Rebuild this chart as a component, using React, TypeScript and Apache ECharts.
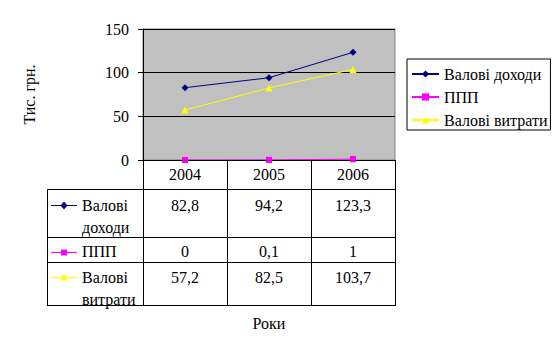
import React, { useEffect, useRef } from "react";
import * as echarts from "echarts";

const years = ["2004", "2005", "2006"];
const seriesNames = ["Валові доходи", "ППП", "Валові витрати"];
const rowLabels = ["Валові\nдоходи", "ППП", "Валові\nвитрати"];
const grossIncome = [82.8, 94.2, 123.3];
const ppp = [0, 0.1, 1];
const grossCosts = [57.2, 82.5, 103.7];
const yAxisTitle = "Тис. грн.";
const xAxisTitle = "Роки";

const colors = ["#000080", "#FF00FF", "#FFFF00"];
const symbols = ["diamond", "rect", "triangle"];
const symbolSizes = [7, 6, 7];
const FONT = "Liberation Serif";
const FS = 16;

export default function App() {
  const ref = useRef<HTMLDivElement>(null);
  useEffect(() => {
    if (!ref.current) return;
    const chart = echarts.init(ref.current, undefined, { renderer: "svg" });
    const GL = 143, GT = 29, GW = 252, GH = 131;
    const GB = GT + GH; // 160
    const catW = GW / years.length;
    const tableLeft = 47;
    const rowBottoms = [189, 237, 262, 305];
    const rowTextY = [205, 251.5, 277];
    const allData = [grossIncome, ppp, grossCosts];
    const fmt = (v: number) => String(v).replace(".", ",");
    const h = (v: number) => Math.round(v) + 0.5;

    const graphics: any[] = [];
    rowBottoms.forEach((y) => {
      graphics.push({
        type: "line",
        shape: { x1: tableLeft, y1: h(y), x2: GL + GW + 1, y2: h(y) },
        style: { stroke: "#000", lineWidth: 1 },
        silent: true,
      });
    });
    graphics.push({
      type: "line",
      shape: { x1: h(tableLeft), y1: rowBottoms[0], x2: h(tableLeft), y2: rowBottoms[3] + 1 },
      style: { stroke: "#000", lineWidth: 1 },
    });
    for (let i = 0; i <= years.length; i++) {
      const x = h(GL + i * catW);
      graphics.push({
        type: "line",
        shape: { x1: x, y1: GB, x2: x, y2: rowBottoms[3] + 1 },
        style: { stroke: "#000", lineWidth: 1 },
      });
    }
    allData.forEach((data, r) => {
      const y = rowTextY[r];
      graphics.push({
        type: "line",
        shape: { x1: 51, y1: h(y), x2: 77, y2: h(y) },
        style: { stroke: colors[r], lineWidth: 1 },
      });
      const cx = 64, cy = h(y);
      if (symbols[r] === "diamond") {
        graphics.push({
          type: "polygon",
          shape: { points: [[cx, cy - 4], [cx + 3.5, cy], [cx, cy + 4], [cx - 3.5, cy]] },
          style: { fill: colors[r] },
        });
      } else if (symbols[r] === "rect") {
        graphics.push({
          type: "rect",
          shape: { x: cx - 3, y: cy - 3, width: 6, height: 6 },
          style: { fill: colors[r] },
        });
      } else {
        graphics.push({
          type: "polygon",
          shape: { points: [[cx, cy - 4], [cx + 4, cy + 3], [cx - 4, cy + 3]] },
          style: { fill: colors[r] },
        });
      }
      graphics.push({
        type: "text",
        x: 82,
        y: y - 11,
        style: {
          text: rowLabels[r],
          fontFamily: FONT,
          fontSize: FS,
          fill: "#000",
          lineHeight: 22,
          verticalAlign: "top",
          align: "left",
        },
      });
      data.forEach((v, c) => {
        graphics.push({
          type: "text",
          x: GL + catW * (c + 0.5),
          y: y,
          style: {
            text: fmt(v),
            fontFamily: FONT,
            fontSize: FS,
            fill: "#000",
            align: "center",
            verticalAlign: "middle",
          },
        });
      });
    });

    const lineSeries = allData.map((d, i) => ({
      name: seriesNames[i],
      type: "line",
      data: d,
      symbol: symbols[i],
      symbolSize: symbolSizes[i],
      itemStyle: { color: colors[i] },
      lineStyle: { color: colors[i], width: 1 },
      z: 2,
    }));
    // markers of ППП drawn above the category axis line (its line stays under it)
    const pppMarkers = {
      name: seriesNames[1],
      type: "scatter",
      data: ppp,
      symbol: symbols[1],
      symbolSize: symbolSizes[1],
      itemStyle: { color: colors[1] },
      z: 5,
    };

    chart.setOption({
      animation: false,
      backgroundColor: "#fff",
      textStyle: { fontFamily: FONT, fontSize: FS },
      grid: {
        left: GL,
        top: GT,
        width: GW,
        height: GH,
        show: true,
        backgroundColor: "#C0C0C0",
        borderColor: "#808080",
        borderWidth: 1,
      },
      legend: {
        orient: "vertical",
        left: 407,
        top: 59,
        borderColor: "#000",
        borderWidth: 1,
        padding: [7, 3, 2, 4],
        itemGap: 7,
        itemWidth: 27,
        itemHeight: 9,
        textStyle: { color: "#000", fontFamily: FONT, fontSize: FS },
        data: seriesNames,
      },
      xAxis: {
        type: "category",
        data: years,
        boundaryGap: true,
        z: 3,
        name: xAxisTitle,
        nameLocation: "middle",
        nameGap: 155,
        nameTextStyle: { color: "#000", fontFamily: FONT, fontSize: FS },
        axisLine: { show: true, lineStyle: { color: "#000", width: 1 } },
        axisTick: { show: false },
        axisLabel: { color: "#000", fontFamily: FONT, fontSize: FS, margin: 6 },
        splitLine: { show: false },
      },
      yAxis: {
        type: "value",
        min: 0,
        max: 150,
        interval: 50,
        name: yAxisTitle,
        nameLocation: "middle",
        nameGap: 106,
        nameRotate: 90,
        nameTextStyle: { color: "#000", fontFamily: FONT, fontSize: FS },
        axisLine: { show: true, lineStyle: { color: "#000", width: 1 } },
        axisTick: { show: true, length: 5, lineStyle: { color: "#000" } },
        axisLabel: { color: "#000", fontFamily: FONT, fontSize: FS, margin: 14 },
        splitLine: { show: true, lineStyle: { color: "#000", width: 1 } },
      },
      series: [...lineSeries, pppMarkers],
      graphic: graphics,
    });
    return () => chart.dispose();
  }, []);
  return (
    <div
      ref={ref}
      style={{ position: "fixed", left: 0, top: 0, width: 560, height: 352 }}
    />
  );
}
